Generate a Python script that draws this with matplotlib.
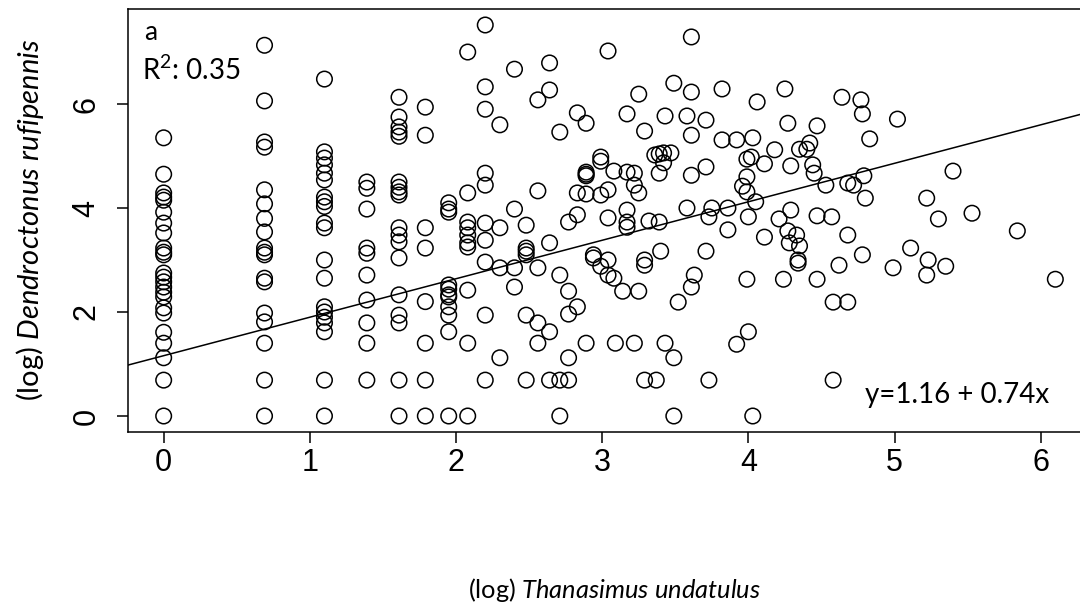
import matplotlib
matplotlib.use("Agg")
import matplotlib.pyplot as plt

# (log) Thanasimus undatulus  vs  (log) Dendroctonus rufipennis
x_vals = (
    [0.0] * 24
    + [0.69] * 18
    + [1.10] * 20
    + [1.39] * 10
    + [1.61] * 18
    + [1.79] * 8
    + [1.95] * 11
    + [2.08] * 10
    + [2.20] * 10
    + [2.30] * 4
    + [2.40] * 4
    + [2.48] * 6
    + [2.56] * 5
    + [2.64] * 5
    + [2.71] * 4
    + [2.77] * 5
    + [2.83] * 4
    + [2.89] * 6
    + [2.94, 2.94, 2.99, 2.99, 2.99, 2.99, 3.04, 3.04, 3.04, 3.04, 3.04,
       3.08, 3.08, 3.09, 3.14, 3.17, 3.17, 3.17, 3.17, 3.17,
       3.22, 3.22, 3.22, 3.25, 3.25, 3.25, 3.29, 3.29, 3.29, 3.29, 3.32,
       3.36, 3.37, 3.39, 3.39, 3.39, 3.40, 3.42, 3.42, 3.43, 3.43, 3.47,
       3.49, 3.49, 3.49, 3.52, 3.58, 3.58, 3.61, 3.61, 3.61, 3.61, 3.61,
       3.63, 3.71, 3.71, 3.71, 3.73, 3.73, 3.75, 3.82, 3.82, 3.86, 3.86,
       3.92, 3.92, 3.96, 3.99, 3.99, 3.99, 3.99, 4.00, 4.00, 4.02, 4.03, 4.03,
       4.05, 4.06, 4.11, 4.11, 4.18, 4.21, 4.24, 4.25, 4.27, 4.27, 4.28,
       4.29, 4.29, 4.33, 4.34, 4.34, 4.35, 4.35, 4.40, 4.42, 4.44, 4.45,
       4.47, 4.47, 4.47, 4.53, 4.57, 4.58, 4.58, 4.62, 4.64,
       4.68, 4.68, 4.68, 4.72, 4.77, 4.78, 4.78, 4.79, 4.80, 4.83,
       4.99, 5.02, 5.11, 5.22, 5.22, 5.23, 5.30, 5.35, 5.40, 5.53, 5.84, 6.10]
)

y_vals = (
    [5.35, 4.65, 4.29, 4.21, 4.15, 3.92, 3.71, 3.52, 3.23, 3.15, 3.10, 2.75,
     2.67, 2.58, 2.48, 2.38, 2.29, 2.08, 1.98, 1.61, 1.40, 1.12, 0.69, 0.0]
    + [7.13, 6.06, 5.27, 5.17, 4.35, 4.08, 3.80, 3.54, 3.23, 3.15, 3.10, 2.65,
       2.58, 1.98, 1.81, 1.40, 0.69, 0.0]
    + [6.48, 5.08, 4.96, 4.83, 4.67, 4.54, 4.21, 4.12, 4.03, 3.71, 3.62, 3.00,
       2.65, 2.10, 2.00, 1.90, 1.79, 1.62, 0.69, 0.0]
    + [4.50, 4.38, 3.98, 3.23, 3.13, 2.71, 2.23, 1.79, 1.40, 0.69]
    + [6.13, 5.75, 5.56, 5.46, 5.38, 4.50, 4.40, 4.31, 4.25, 3.62, 3.48, 3.35,
       3.04, 2.33, 1.94, 1.79, 0.69, 0.0]
    + [5.94, 5.40, 3.62, 3.23, 2.20, 1.40, 0.69, 0.0]
    + [4.10, 3.98, 3.92, 2.52, 2.44, 2.33, 2.29, 2.10, 1.94, 1.62, 0.0]
    + [7.00, 4.29, 3.73, 3.62, 3.48, 3.33, 3.25, 2.42, 1.40, 0.0]
    + [7.52, 6.33, 5.90, 4.67, 4.44, 3.71, 3.38, 2.96, 1.94, 0.69]
    + [5.60, 3.62, 2.85, 1.12]
    + [6.67, 3.98, 2.85, 2.48]
    + [3.67, 3.23, 3.17, 3.10, 1.94, 0.69]
    + [6.08, 4.33, 2.85, 1.79, 1.40]
    + [6.79, 6.27, 3.33, 1.62, 0.69]
    + [5.46, 2.71, 0.69, 0.0]
    + [3.73, 2.40, 1.96, 1.12, 0.69]
    + [5.83, 4.29, 3.87, 2.10]
    + [5.63, 4.69, 4.65, 4.62, 4.27, 1.40]
    + [3.10, 3.04, 4.98, 4.90, 4.25, 2.88, 7.02, 4.35, 3.81, 3.00, 2.71,
       4.71, 2.65, 1.40, 2.40, 5.81, 4.69, 3.96, 3.73, 3.63,
       4.67, 4.44, 1.40, 6.19, 4.29, 2.40, 5.48, 3.00, 2.90, 0.69, 3.75,
       5.02, 0.69, 5.04, 4.67, 3.73, 3.17, 5.06, 4.87, 5.77, 1.40, 5.06,
       6.40, 1.12, 0.0, 2.19, 5.77, 4.00, 7.29, 6.23, 5.40, 4.63, 2.48,
       2.71, 5.69, 4.79, 3.17, 3.83, 0.69, 4.00, 6.29, 5.31, 4.00, 3.58,
       5.31, 1.38, 4.42, 4.94, 4.60, 4.31, 2.63, 3.83, 1.62, 4.98, 5.35, 0.0,
       4.12, 6.04, 4.85, 3.44, 5.12, 3.79, 2.63, 6.29, 5.63, 3.56, 3.33,
       4.81, 3.96, 3.48, 3.00, 2.94, 5.13, 3.27, 5.13, 5.25, 4.83, 4.67,
       5.58, 3.85, 2.63, 4.44, 3.83, 2.19, 0.69, 2.90, 6.13,
       4.48, 3.48, 2.19, 4.44, 6.08, 5.81, 3.10, 4.62, 4.19, 5.33,
       2.85, 5.71, 3.23, 4.19, 2.71, 3.00, 3.79, 2.88, 4.71, 3.90, 3.56, 2.63]
)

# fitted line y = 1.16 + 0.74x
intercept = 1.16
slope = 0.74

plt.rcParams['mathtext.fontset'] = 'custom'
plt.rcParams['mathtext.rm'] = 'Lato'
plt.rcParams['mathtext.it'] = 'Lato:italic'

W, H = 1080, 607
fig = plt.figure(figsize=(W / 100, H / 100), dpi=100)

# plot box: left 128px, top 9.4px, bottom 431.6px, right edge falls outside the image
left, right, top, bottom = 128, 1091, 9.4, 431.6
ax = fig.add_axes([left / W, 1 - bottom / H, (right - left) / W, (bottom - top) / H])

ax.scatter(x_vals, y_vals, s=125, facecolors='none', edgecolors='black', linewidths=1.1, zorder=3)
ax.axline((0, intercept), slope=slope, color='black', linewidth=1.1)

ax.set_xlim(-0.244, 6.344)
ax.set_ylim(-0.30, 7.82)
ax.set_xticks(range(0, 7))
ax.set_yticks([0, 2, 4, 6])
for s in ax.spines.values():
    s.set_linewidth(1.1)

ax.tick_params(axis='both', direction='out', length=8, width=1.1, labelsize=22)
ax.tick_params(axis='x', pad=4)
ax.tick_params(axis='y', pad=11)
for lab in ax.get_xticklabels() + ax.get_yticklabels():
    lab.set_fontfamily('Liberation Sans')
for lab in ax.get_yticklabels():
    lab.set_rotation(90)
    lab.set_verticalalignment('center')

ax.text(0.017, 0.945, 'a', transform=ax.transAxes, fontsize=19, family='Lato', va='center')
ax.text(0.015, 0.855, r'R$^2$: 0.35', transform=ax.transAxes, fontsize=20, family='Lato', va='center')
ax.text(0.957, 0.087, 'y=1.16 + 0.74x', transform=ax.transAxes, fontsize=20, family='Lato',
        ha='right', va='center')

fig.text(614 / W, 1 - 590 / H, r'(log) $\it{Thanasimus\ undatulus}$', fontsize=18.3,
         family='Lato', ha='center', va='center')
fig.text(30 / W, 1 - 220 / H, r'(log) $\it{Dendroctonus\ rufipennis}$', fontsize=21,
         family='Lato', ha='center', va='center', rotation=90)

fig.savefig('out.png', dpi=100)
